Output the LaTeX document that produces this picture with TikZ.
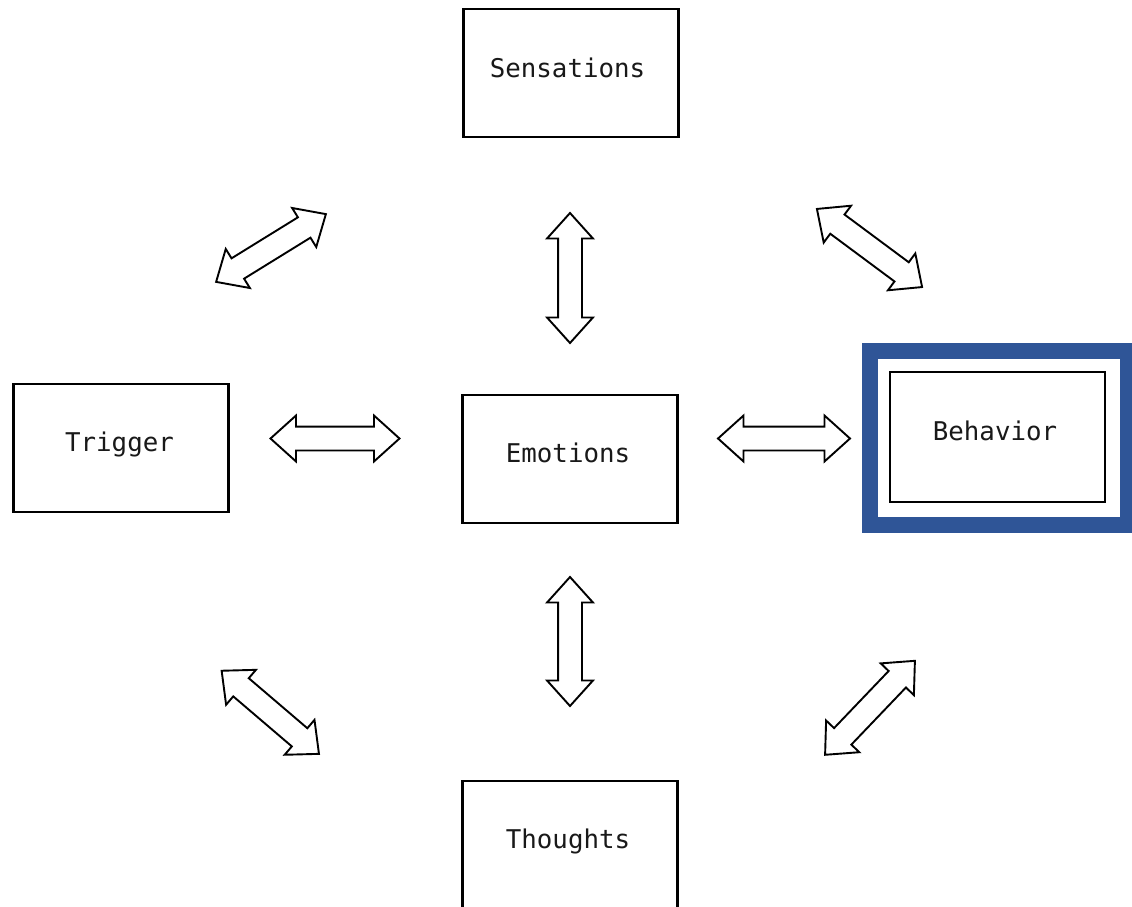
\documentclass[tikz,border=0pt]{standalone}
\usepackage{fontspec}
\setmonofont{DejaVu Sans Mono}
\usetikzlibrary{shapes.arrows}
\definecolor{frameblue}{HTML}{2F5597}
\tikzset{
  box/.style={draw=black, line width=2.3pt, fill=white, minimum width=215pt, minimum height=128pt, inner sep=0pt},
  lab/.style={anchor=base, inner sep=0pt, font=\ttfamily\fontsize{25.8}{30}\selectfont, text=black!90},
  darrow/.style={double arrow, draw=black, line width=1.9pt, fill=white, minimum height=129pt, minimum width=44pt,
    double arrow head extend=11pt, double arrow tip angle=84, inner xsep=0pt, inner ysep=11pt, outer sep=0pt}
}
\begin{document}
\begin{tikzpicture}[x=1pt, y=-1pt]
\useasboundingbox (0,0) rectangle (1132,907);
% boxes
\node[box] (sens) at (571,73.3) {};
\node[lab] (sensT) at (567.5,77.5) {Sensations};
\node[box] (trig) at (121,448) {};
\node[lab] (trigT) at (119.5,451) {Trigger};
\node[box] (emo) at (570,459) {};
\node[lab] (emoT) at (568,462.5) {Emotions};
\node[draw=frameblue, line width=16pt, minimum width=258pt, minimum height=173.5pt, inner sep=0pt] (frame) at (999,437.75) {};
\node[box, minimum height=130pt] (beh) at (997.5,437) {};
\node[lab] (behT) at (995,440.5) {Behavior};
\node[box] (thou) at (570,845) {};
\node[lab] (thouT) at (568,848) {Thoughts};
% arrows
\node[darrow, rotate=31.7] (a1) at (271,248) {};
\node[darrow, rotate=90, minimum height=130pt] (a2) at (570,278) {};
\node[darrow, rotate=-36.6, minimum height=131pt] (a3) at (869.5,248) {};
\node[darrow] (a4) at (335,438.5) {};
\node[darrow, minimum height=132pt] (a5) at (784,438.5) {};
\node[darrow, rotate=90] (a6) at (570,641.5) {};
\node[darrow, rotate=-40.5, minimum height=128pt] (a7) at (270.3,712.3) {};
\node[darrow, rotate=46.3, minimum height=130pt] (a8) at (870,707.8) {};
\end{tikzpicture}
\end{document}
